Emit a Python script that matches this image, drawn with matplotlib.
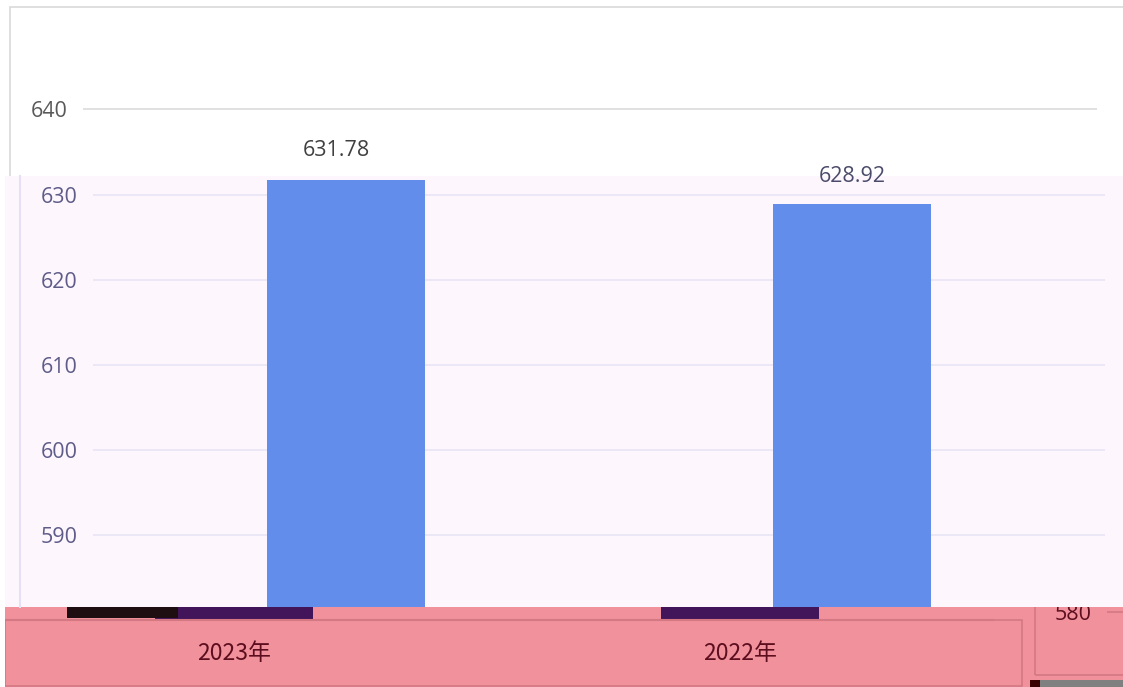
import numpy as np
import matplotlib.pyplot as plt
from matplotlib.patches import Rectangle

plt.rcParams['font.family'] = ['Open Sans', 'Noto Sans CJK SC', 'DejaVu Sans']

# 数据
categories = ['2023年', '2022年']
values     = [631.78, 628.92]
y_ticks    = [580, 590, 600, 610, 620, 630, 640]

W, H = 1123, 687
fig = plt.figure(figsize=(W / 100, H / 100), dpi=100)
fig.patch.set_facecolor('white')


def px_axes(x0, x1, y0, y1, **kw):
    """像素坐标 (左上原点) -> add_axes"""
    return fig.add_axes([x0 / W, 1 - y1 / H, (x1 - x0) / W, (y1 - y0) / H], **kw)


def px_rect(x0, y0, x1, y1, **kw):
    r = Rectangle((x0 / W, 1 - y1 / H), (x1 - x0) / W, (y1 - y0) / H,
                  transform=fig.transFigure, **kw)
    fig.add_artist(r)
    return r


xpos = np.arange(len(categories))
BAR_W = 0.314


def style_ax(ax, grid_c, tick_c):
    ax.set_xlim(-0.5, 1.5)
    ax.set_yticks(y_ticks)
    ax.set_xticks([])
    ax.set_facecolor('none')
    for s in ax.spines.values():
        s.set_visible(False)
    ax.grid(axis='y', color=grid_c, linewidth=1.1)
    ax.set_axisbelow(True)
    ax.tick_params(axis='y', length=0, pad=11, labelsize=15.5, labelcolor=tick_c)


# ── 上层 (白底, 原图) ─────────────────────
ax_top = px_axes(83, 1097, 7, 176, zorder=0)
style_ax(ax_top, '#D9D9D9', '#595959')
ax_top.set_ylim(632.14, 651.97)
ax_top.bar(xpos, values, width=BAR_W, color='#628DEB')

# 外框
px_rect(10, 7, 1130, 700, facecolor='none', edgecolor='#D9D9D9', linewidth=1.2, zorder=0.1)

# ── 下层 (粉红条带) ───────────────────────
px_rect(5, 600, 1123, 687, facecolor='#F0919C', edgecolor='none', zorder=0.6)
px_rect(5, 620, 1022, 686, facecolor='none', edgecolor='#D47883', linewidth=1.2, zorder=0.7)
px_rect(1035, 598, 1130, 675, facecolor='none', edgecolor='#D47883', linewidth=1.2, zorder=0.7)

ax_band = px_axes(-19, 993, 607, 620, zorder=0.8)
ax_band.set_facecolor('none')
ax_band.set_xlim(-0.5, 1.5)
ax_band.set_ylim(580, 581.53)
ax_band.bar(xpos, values, width=BAR_W, color='#42155A')
ax_band.set_yticks([])
ax_band.set_xticks(xpos)
ax_band.set_xticklabels(categories, family=['Noto Sans CJK SC', 'DejaVu Sans'])
ax_band.tick_params(axis='x', length=0, pad=16, labelsize=16.5, labelcolor='#5C0E1E')
for k in ['top', 'left', 'right']:
    ax_band.spines[k].set_visible(False)
ax_band.spines['bottom'].set_color('#D47883')
ax_band.spines['bottom'].set_linewidth(1.5)

# 左边缘留白 (遮住轴线超出部分)
px_rect(0, 600, 5, 687, facecolor='white', edgecolor='none', zorder=0.9)

# 右侧小框 580
ax_r = px_axes(1107, 1200, 600, 675, zorder=0.8)
ax_r.set_facecolor('none')
ax_r.set_ylim(572.6, 581.4)
ax_r.set_yticks([y_ticks[0]])
ax_r.set_xticks([])
for s in ax_r.spines.values():
    s.set_visible(False)
ax_r.grid(axis='y', color='#D47883', linewidth=1.2)
ax_r.tick_params(axis='y', length=0, pad=11, labelsize=15.5, labelcolor='#5C0E1E')

# ── 中层 (淡粉面板) ───────────────────────
px_rect(5, 176, 1123, 607, facecolor='#FDF7FD', edgecolor='none', zorder=1)
fig.add_artist(plt.Line2D([20 / W, 20 / W], [1 - 607 / H, 1 - 176 / H],
                          transform=fig.transFigure, color='#E6E0F5', linewidth=1.5, zorder=1.1))

ax_main = px_axes(93, 1105, 176, 607, zorder=2)
style_ax(ax_main, '#E8E3F6', '#5F5C8A')
ax_main.set_ylim(581.53, 632.235)
ax_main.bar(xpos, values, width=BAR_W, color='#628DEB')

# 数值标签
for x, v in zip(xpos, values):
    ly = v + 3.3
    if ly > 632.235:
        ax_top.text(x, ly, f'{v:.2f}', ha='center', va='center', fontsize=15.5,
                    color='#404040', clip_on=False)
    else:
        ax_main.text(x, ly, f'{v:.2f}', ha='center', va='center', fontsize=15.5,
                     color='#4B4B6B', clip_on=False, zorder=5)

# 杂色块
px_rect(67, 607, 178, 618, facecolor='#1E0E12', edgecolor='none', zorder=5)
px_rect(1030, 680, 1040, 687, facecolor='#3A0000', edgecolor='none', zorder=5)
px_rect(1040, 680, 1123, 687, facecolor='#808080', edgecolor='none', zorder=5)

plt.savefig('out.png', dpi=100)
